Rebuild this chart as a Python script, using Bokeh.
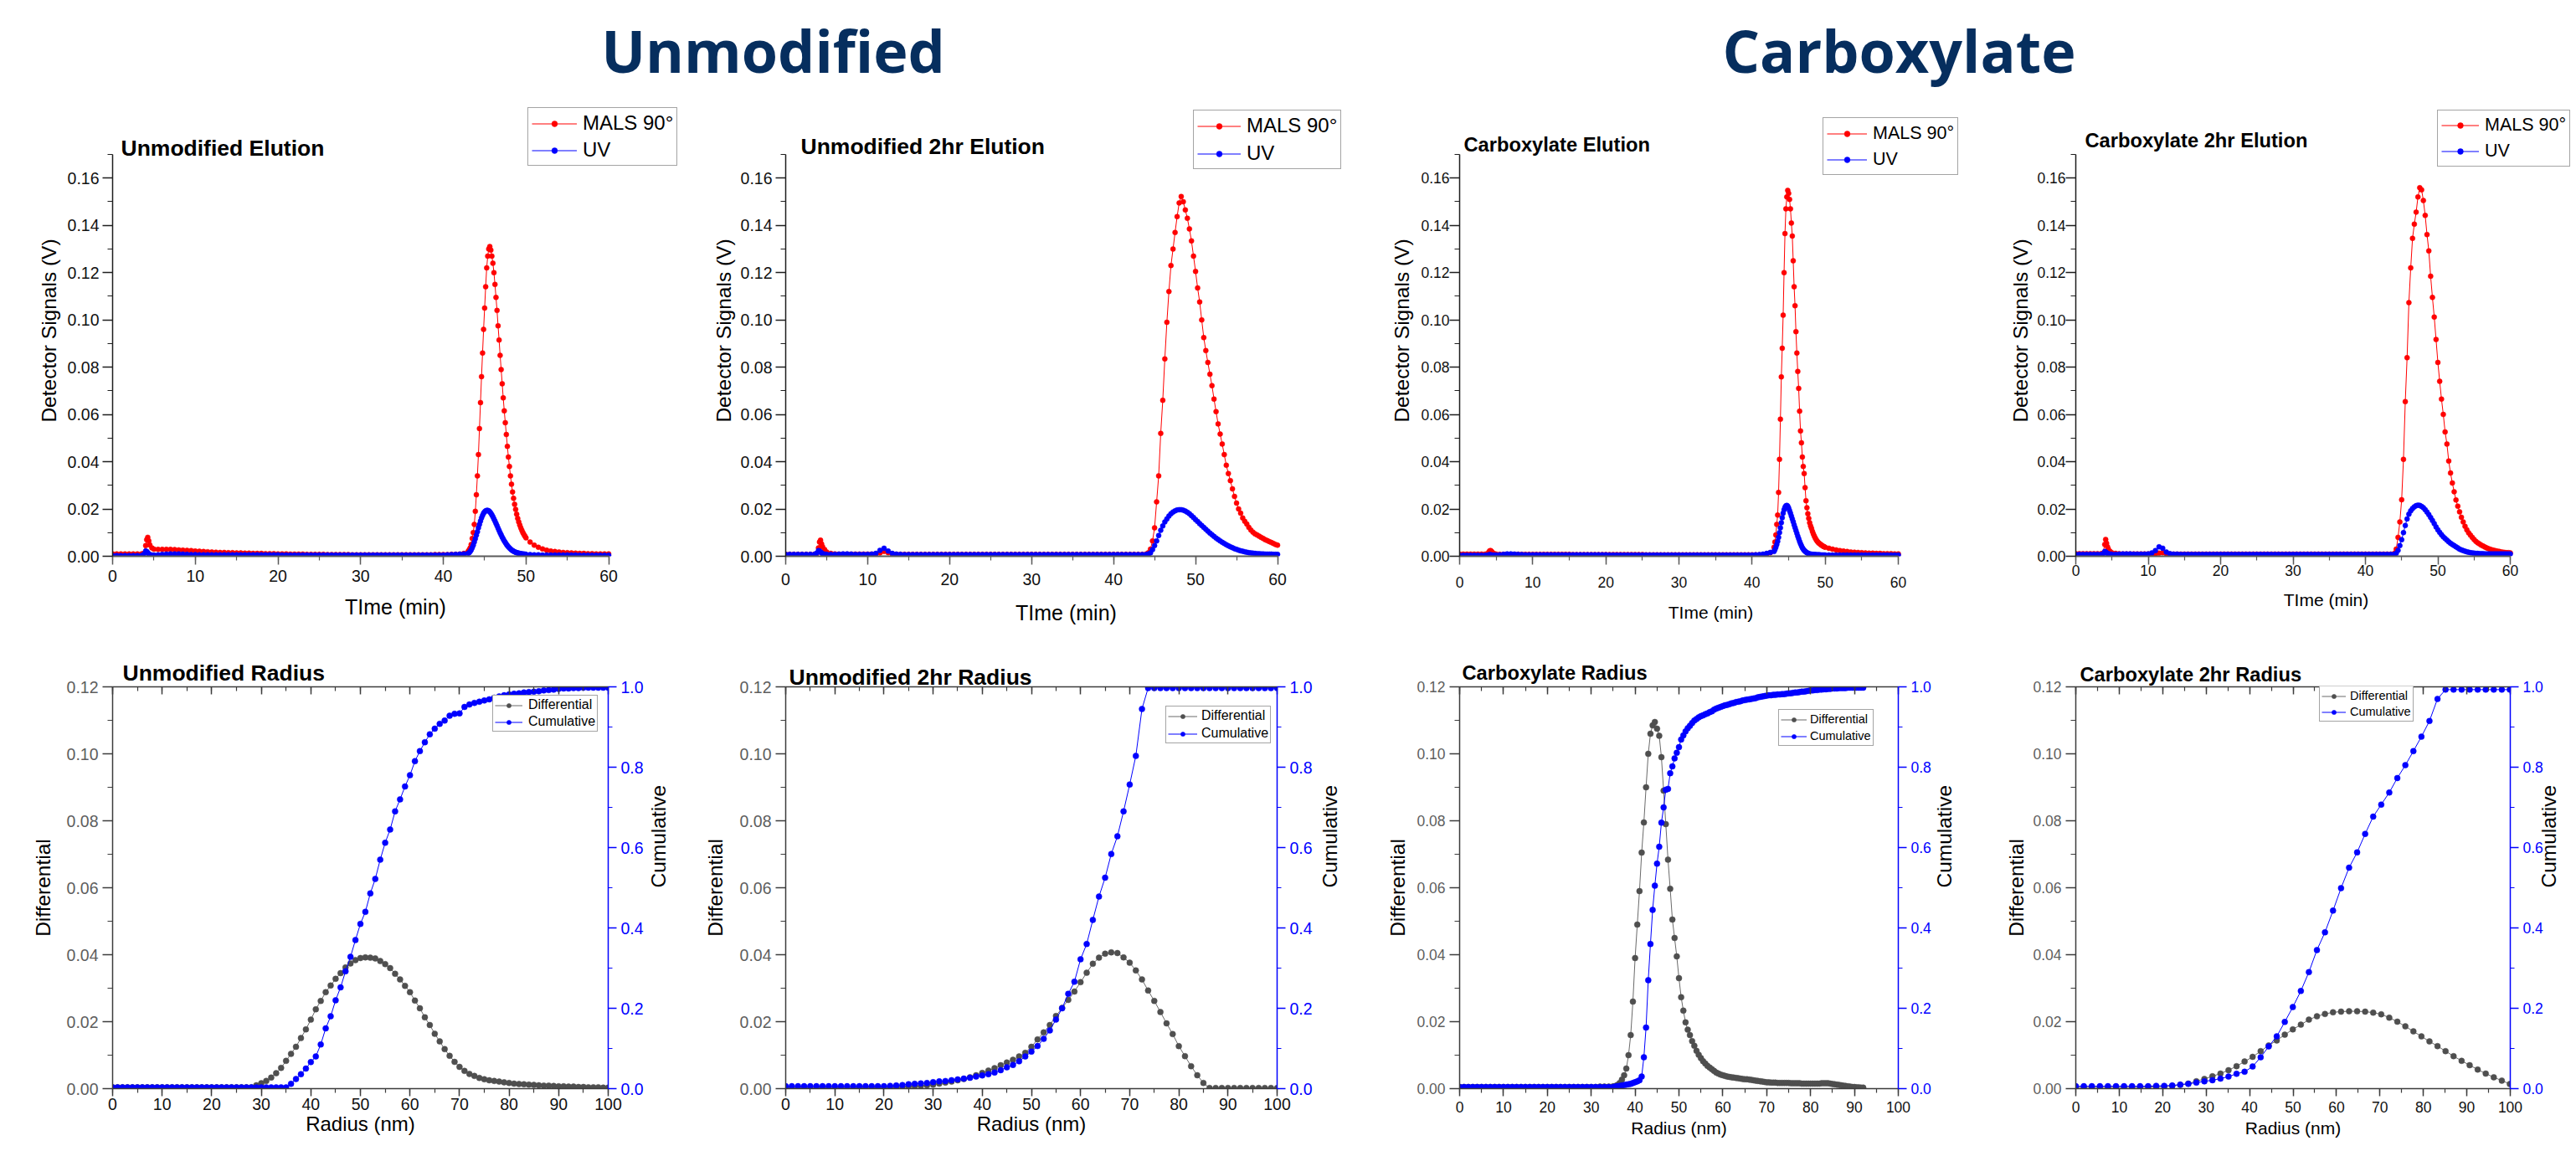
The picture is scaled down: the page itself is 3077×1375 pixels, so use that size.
import math
import numpy as np
from bokeh.plotting import figure
from bokeh.models import (Range1d, LinearAxis, SingleIntervalTicker, NumeralTickFormatter,
                          Legend, LegendItem, Label, ColumnDataSource)
from bokeh.layouts import column, row
from bokeh.core.properties import value
from bokeh.embed import file_html
from bokeh.resources import INLINE

# ------------------------------------------------------------------ sampling grids
SPIKE = [3.75, 4.0, 4.125, 4.25, 4.375, 4.5, 4.75, 5.0]
T_NARROW = np.concatenate([np.arange(0, 3.51, 0.5), SPIKE, np.arange(5.5, 42.51, 0.5),
                           np.arange(43.0, 49.9, 0.125), np.arange(50.0, 60.01, 0.5)])
T_BROAD = np.concatenate([np.arange(0, 3.51, 0.5), SPIKE, np.arange(5.5, 43.51, 0.5),
                          np.arange(44.0, 60.01, 0.25)])
R5 = np.arange(0, 100.5, 1.0)
R6 = np.arange(0, 100.01, 1.25)
R7 = np.concatenate([np.arange(0, 34.5, 1.0), np.arange(35.0, 92.01, 0.5)])
R8 = np.round(np.arange(55) * 1.85, 2)

# ------------------------------------------------------------------ elution data (V)
P1_MALS = [
 0.0010,0.0010,0.0010,0.0010,0.0010,0.0010,0.0010,0.0010,
 0.0012,0.0045,0.0070,0.0080,0.0065,0.0048,0.0035,0.0030,
 0.0029,0.0029,0.0029,0.0029,0.0028,0.0027,0.0026,0.0025,0.0024,0.0022,
 0.0021,0.0020,0.0019,0.0018,0.0017,0.0016,0.0016,0.0015,0.0015,0.0014,
 0.0014,0.0013,0.0013,0.0012,0.0012,0.0012,0.0011,0.0011,0.0011,0.0010,
 0.0010,0.0010,0.0009,0.0009,0.0009,0.0009,0.0008,0.0008,0.0008,0.0008,
 0.0008,0.0007,0.0007,0.0007,0.0007,0.0007,0.0007,0.0006,0.0006,0.0006,
 0.0006,0.0006,0.0006,0.0006,0.0006,0.0006,0.0006,0.0006,0.0006,0.0006,
 0.0006,0.0006,0.0006,0.0006,0.0006,0.0006,0.0006,0.0007,0.0007,0.0007,
 0.0007,0.0008,0.0008,0.0009,0.0012,
 0.0020,0.0027,0.0035,0.0050,0.0075,0.0100,0.0135,0.0190,
 0.0260,0.0340,0.0430,0.0540,0.0650,0.0760,0.0860,0.0960,
 0.1050,0.1140,0.1220,0.1270,0.1300,0.1310,0.1295,0.1270,
 0.1240,0.1200,0.1150,0.1095,0.1040,0.0975,0.0915,0.0850,
 0.0790,0.0730,0.0670,0.0615,0.0565,0.0515,0.0465,0.0420,
 0.0380,0.0340,0.0305,0.0272,0.0245,0.0220,0.0198,0.0178,
 0.0160,0.0145,0.0132,0.0120,0.0110,0.0100,0.0092,0.0085,
 0.0078,0.0060,0.0047,0.0038,0.0031,0.0026,0.0022,0.0020,0.0018,0.0016,
 0.0015,0.0014,0.0013,0.0012,0.0012,0.0011,0.0011,0.0010,0.0010,0.0010,0.0010]
P1_UV = [
 0.0003,0.0003,0.0003,0.0003,0.0003,0.0003,0.0003,0.0003,
 0.0008,0.0022,0.0020,0.0015,0.0010,0.0007,0.0005,0.0005,
 0.0006,0.0008,0.0009,0.0010,0.0010,0.0010,0.0009,0.0008,0.0007,0.0007,
 0.0006,0.0006,0.0006,0.0006,0.0006,0.0006,0.0006,0.0006,0.0006,0.0006,
 0.0006,0.0006,0.0006,0.0006,0.0006,0.0006,0.0006,0.0006,0.0006,0.0006,
 0.0005,0.0005,0.0005,0.0005,0.0005,0.0005,0.0005,0.0005,0.0005,0.0005,
 0.0005,0.0005,0.0005,0.0005,0.0005,0.0005,0.0005,0.0005,0.0005,0.0005,
 0.0005,0.0005,0.0005,0.0005,0.0005,0.0005,0.0005,0.0005,0.0005,0.0005,
 0.0005,0.0005,0.0005,0.0005,0.0005,0.0005,0.0005,0.0005,0.0005,0.0005,
 0.0006,0.0007,0.0008,0.0009,0.0010,
 0.0012,0.0015,0.0020,0.0027,0.0036,0.0047,0.0060,0.0074,
 0.0089,0.0104,0.0120,0.0135,0.0149,0.0162,0.0173,0.0182,
 0.0188,0.0192,0.0194,0.0194,0.0192,0.0188,0.0182,0.0175,
 0.0167,0.0158,0.0149,0.0139,0.0129,0.0119,0.0109,0.0099,
 0.0090,0.0081,0.0073,0.0065,0.0058,0.0051,0.0045,0.0040,
 0.0035,0.0031,0.0027,0.0024,0.0021,0.0019,0.0017,0.0015,
 0.0014,0.0013,0.0012,0.0011,0.0010,0.0010,0.0009,0.0009,
 0.0008,0.0007,0.0006,0.0006,0.0005,0.0005,0.0005,0.0005,0.0005,0.0005,
 0.0005,0.0005,0.0005,0.0004,0.0004,0.0004,0.0004,0.0004,0.0004,0.0004,0.0004]

P2_MALS = [
 0.0008,0.0008,0.0008,0.0008,0.0008,0.0008,0.0008,0.0008,
 0.0010,0.0035,0.0060,0.0068,0.0052,0.0040,0.0028,0.0018,
 0.0012,0.0010,
 0.0009,0.0009,0.0009,0.0009,0.0009,0.0009,0.0009,0.0009,0.0009,0.0009,
 0.0014,0.0020,0.0015,0.0010,
 0.0008,0.0008,0.0008,0.0008,0.0008,0.0008,0.0008,0.0008,0.0008,0.0008,
 0.0008,0.0008,0.0008,0.0008,0.0008,0.0008,0.0008,0.0008,0.0008,0.0008,
 0.0008,0.0008,0.0008,0.0008,0.0008,0.0008,0.0008,0.0008,0.0008,0.0008,
 0.0008,0.0008,0.0008,0.0008,0.0008,0.0008,0.0008,0.0008,0.0008,0.0008,
 0.0008,0.0008,0.0008,0.0008,0.0008,0.0008,0.0008,0.0008,0.0008,0.0008,
 0.0008,0.0008,0.0008,0.0008,0.0008,0.0008,0.0008,0.0008,0.0008,0.0008,
 0.0008,
 0.0010,0.0015,0.0030,0.0065,0.0120,0.0230,0.0340,0.0520,
 0.0660,0.0835,0.0990,0.1120,0.1230,0.1300,0.1370,0.1437,
 0.1495,0.1522,0.1500,0.1465,0.1430,0.1385,0.1334,0.1270,
 0.1205,0.1135,0.1076,0.1000,0.0925,0.0870,0.0820,0.0770,
 0.0722,0.0665,0.0612,0.0560,0.0517,0.0475,0.0430,0.0385,
 0.0350,0.0320,0.0285,0.0253,0.0225,0.0200,0.0182,0.0162,
 0.0148,0.0136,0.0122,0.0111,0.0102,0.0095,0.0090,0.0085,
 0.0080,0.0075,0.0070,0.0066,0.0062,0.0058,0.0054,0.0050,
 0.0047]
P2_UV = [
 0.0008,0.0008,0.0008,0.0008,0.0008,0.0008,0.0008,0.0008,
 0.0012,0.0024,0.0022,0.0018,0.0014,0.0011,0.0009,0.0008,
 0.0008,0.0008,
 0.0009,0.0010,0.0010,0.0009,0.0008,0.0008,0.0008,0.0008,0.0009,0.0012,
 0.0025,0.0034,0.0022,0.0012,
 0.0009,0.0008,
 0.0007,0.0007,0.0007,0.0007,0.0007,0.0007,0.0007,0.0007,0.0007,0.0007,
 0.0007,0.0007,0.0007,0.0007,0.0007,0.0007,0.0007,0.0007,0.0007,0.0007,
 0.0007,0.0007,0.0007,0.0007,0.0007,0.0007,0.0007,0.0007,0.0007,0.0007,
 0.0007,0.0007,0.0007,0.0007,0.0007,0.0007,0.0007,0.0007,0.0007,0.0007,
 0.0007,0.0007,0.0007,0.0007,0.0007,0.0007,0.0007,0.0007,0.0007,0.0007,
 0.0007,0.0007,0.0007,0.0007,0.0007,0.0007,0.0007,0.0007,0.0007,
 0.0008,0.0010,0.0014,0.0028,0.0045,0.0065,0.0088,0.0110,
 0.0128,0.0145,0.0158,0.0170,0.0180,0.0187,0.0192,0.0196,
 0.0197,0.0197,0.0195,0.0191,0.0186,0.0180,0.0172,0.0164,
 0.0155,0.0147,0.0138,0.0130,0.0122,0.0114,0.0106,0.0098,
 0.0091,0.0084,0.0077,0.0071,0.0065,0.0059,0.0054,0.0049,
 0.0044,0.0040,0.0036,0.0032,0.0029,0.0026,0.0023,0.0021,
 0.0019,0.0017,0.0015,0.0014,0.0013,0.0012,0.0011,0.0011,
 0.0010,0.0010,0.0009,0.0009,0.0009,0.0009,0.0008,0.0008,
 0.0008]

P3_MALS = [
 0.0009,0.0009,0.0009,0.0009,0.0009,0.0009,0.0009,0.0009,
 0.0010,0.0018,0.0023,0.0024,0.0020,0.0015,0.0011,0.0009,
 0.0008,0.0008,0.0008,0.0008,0.0008,0.0008,0.0008,0.0008,0.0008,0.0008,
 0.0008,0.0008,0.0008,0.0008,0.0008,0.0008,0.0008,0.0008,0.0008,0.0008,
 0.0007,0.0007,0.0007,0.0007,0.0007,0.0007,0.0007,0.0007,0.0007,0.0007,
 0.0007,0.0007,0.0007,0.0007,0.0007,0.0007,0.0007,0.0007,0.0007,0.0007,
 0.0006,0.0006,0.0006,0.0006,0.0006,0.0006,0.0006,0.0006,0.0006,0.0006,
 0.0006,0.0006,0.0006,0.0006,0.0006,0.0006,0.0006,0.0006,0.0006,0.0006,
 0.0006,0.0006,0.0006,0.0006,0.0006,0.0006,0.0006,0.0006,0.0006,0.0006,
 0.0006,0.0006,0.0007,0.0009,0.0015,
 0.0038,0.0060,0.0090,0.0135,0.0174,0.0270,0.0410,0.0580,
 0.0759,0.0880,0.1020,0.1200,0.1365,0.1470,0.1520,0.1548,
 0.1535,0.1510,0.1470,0.1410,0.1355,0.1250,0.1140,0.1060,
 0.0950,0.0860,0.0782,0.0710,0.0614,0.0530,0.0480,0.0420,
 0.0380,0.0350,0.0290,0.0235,0.0205,0.0180,0.0160,0.0142,
 0.0128,0.0118,0.0105,0.0095,0.0086,0.0078,0.0071,0.0065,
 0.0060,0.0056,0.0053,0.0050,0.0047,0.0044,0.0042,0.0040,
 0.0038,0.0034,0.0030,0.0027,0.0024,0.0022,0.0020,0.0018,0.0017,0.0016,
 0.0015,0.0014,0.0013,0.0013,0.0012,0.0012,0.0011,0.0011,0.0011,0.0010,0.0010]
P3_UV = [
 0.0004,0.0004,0.0004,0.0004,0.0004,0.0004,0.0004,0.0004,
 0.0004,0.0006,0.0007,0.0006,0.0005,0.0005,0.0005,0.0005,
 0.0006,0.0008,0.0010,0.0010,0.0009,0.0008,0.0007,0.0006,0.0006,0.0006,
 0.0006,0.0006,0.0006,0.0006,0.0006,0.0006,0.0006,0.0006,0.0006,0.0006,
 0.0006,0.0006,0.0006,0.0006,0.0006,0.0006,0.0006,0.0006,0.0006,0.0006,
 0.0005,0.0005,0.0005,0.0005,0.0005,0.0005,0.0005,0.0005,0.0005,0.0005,
 0.0005,0.0005,0.0005,0.0005,0.0005,0.0005,0.0005,0.0005,0.0005,0.0005,
 0.0005,0.0005,0.0005,0.0005,0.0005,0.0005,0.0005,0.0005,0.0005,0.0005,
 0.0005,0.0005,0.0005,0.0005,0.0005,0.0005,0.0005,0.0005,0.0005,0.0005,
 0.0006,0.0007,0.0009,0.0012,0.0016,
 0.0020,0.0028,0.0038,0.0050,0.0063,0.0080,0.0100,0.0120,
 0.0142,0.0163,0.0182,0.0197,0.0207,0.0213,0.0215,0.0212,
 0.0204,0.0193,0.0182,0.0170,0.0158,0.0146,0.0133,0.0121,
 0.0109,0.0097,0.0085,0.0074,0.0063,0.0053,0.0044,0.0036,
 0.0030,0.0025,0.0021,0.0018,0.0015,0.0013,0.0011,0.0010,
 0.0009,0.0008,0.0008,0.0007,0.0007,0.0007,0.0006,0.0006,
 0.0006,0.0006,0.0006,0.0005,0.0005,0.0005,0.0005,0.0005,
 0.0005,0.0005,0.0005,0.0005,0.0005,0.0005,0.0005,0.0005,0.0005,0.0005,
 0.0005,0.0005,0.0005,0.0005,0.0005,0.0005,0.0005,0.0005,0.0005,0.0005,0.0005]

P4_MALS = [
 0.0011,0.0011,0.0011,0.0011,0.0011,0.0011,0.0011,0.0011,
 0.0013,0.0050,0.0071,0.0055,0.0040,0.0030,0.0020,0.0014,
 0.0012,0.0011,
 0.0010,0.0010,0.0010,0.0010,0.0010,0.0010,0.0010,0.0010,0.0010,0.0010,
 0.0013,0.0015,0.0011,0.0010,
 0.0009,0.0009,0.0009,0.0009,0.0009,0.0009,0.0009,0.0009,0.0009,0.0009,
 0.0009,0.0009,0.0009,0.0009,0.0009,0.0009,0.0009,0.0009,0.0009,0.0009,
 0.0009,0.0009,0.0009,0.0009,0.0009,0.0009,0.0009,0.0009,0.0009,0.0009,
 0.0009,0.0009,0.0009,0.0009,0.0009,0.0009,0.0009,0.0009,0.0009,0.0009,
 0.0009,0.0009,0.0009,0.0009,0.0009,0.0009,0.0009,0.0009,0.0009,0.0009,
 0.0009,0.0009,0.0009,0.0009,0.0009,0.0009,0.0009,0.0009,0.0009,0.0009,
 0.0009,
 0.0012,0.0030,0.0080,0.0145,0.0239,0.0410,0.0654,0.0840,
 0.1073,0.1220,0.1345,0.1405,0.1456,0.1520,0.1559,0.1550,
 0.1505,0.1442,0.1361,0.1292,0.1185,0.1095,0.1012,0.0917,
 0.0820,0.0740,0.0665,0.0600,0.0526,0.0475,0.0403,0.0352,
 0.0310,0.0273,0.0238,0.0212,0.0188,0.0165,0.0145,0.0127,
 0.0112,0.0099,0.0089,0.0080,0.0071,0.0063,0.0057,0.0052,
 0.0047,0.0043,0.0039,0.0035,0.0032,0.0029,0.0027,0.0025,
 0.0023,0.0021,0.0020,0.0018,0.0017,0.0016,0.0015,0.0015,
 0.0014]
P4_UV = [
 0.0008,0.0008,0.0008,0.0008,0.0008,0.0008,0.0008,0.0008,
 0.0010,0.0020,0.0018,0.0015,0.0012,0.0010,0.0009,0.0008,
 0.0008,0.0009,
 0.0010,0.0010,0.0010,0.0009,0.0009,0.0009,0.0009,0.0010,0.0014,0.0024,
 0.0040,0.0034,0.0018,0.0011,
 0.0009,0.0009,
 0.0008,0.0008,0.0008,0.0008,0.0008,0.0008,0.0008,0.0008,0.0008,0.0008,
 0.0008,0.0008,0.0008,0.0008,0.0008,0.0008,0.0008,0.0008,0.0008,0.0008,
 0.0008,0.0008,0.0008,0.0008,0.0008,0.0008,0.0008,0.0008,0.0008,0.0008,
 0.0008,0.0008,0.0008,0.0008,0.0008,0.0008,0.0008,0.0008,0.0008,0.0008,
 0.0008,0.0008,0.0008,0.0008,0.0008,0.0008,0.0008,0.0008,0.0008,0.0008,
 0.0008,0.0008,0.0008,0.0008,0.0008,0.0008,0.0008,0.0008,0.0008,
 0.0009,0.0012,0.0025,0.0045,0.0070,0.0100,0.0130,0.0158,
 0.0178,0.0192,0.0202,0.0209,0.0214,0.0216,0.0215,0.0211,
 0.0205,0.0197,0.0187,0.0176,0.0164,0.0151,0.0138,0.0124,
 0.0112,0.0101,0.0091,0.0082,0.0075,0.0068,0.0061,0.0055,
 0.0050,0.0045,0.0040,0.0035,0.0030,0.0027,0.0024,0.0021,
 0.0019,0.0017,0.0015,0.0014,0.0013,0.0012,0.0012,0.0011,
 0.0011,0.0011,0.0010,0.0010,0.0010,0.0010,0.0010,0.0010,
 0.0010,0.0010,0.0010,0.0010,0.0010,0.0010,0.0010,0.0010,
 0.0010]

# ------------------------------------------------------------------ radius distributions
P5_DIFF = [
 0.0004,0.0004,0.0004,0.0004,0.0004,0.0004,0.0004,0.0004,0.0004,0.0004,
 0.0004,0.0004,0.0004,0.0004,0.0004,0.0004,0.0004,0.0004,0.0004,0.0004,
 0.0004,0.0004,0.0004,0.0004,0.0004,0.0004,0.0004,0.0004,0.0004,
 0.0010,0.0016,0.0023,0.0033,0.0046,0.0062,0.0083,0.0104,0.0125,0.0151,
 0.0177,0.0206,0.0237,0.0262,0.0288,0.0308,0.0328,0.0345,0.0362,0.0374,
 0.0384,0.0390,0.0392,0.0391,0.0389,0.0381,0.0372,0.0360,0.0343,0.0326,
 0.0307,0.0288,0.0263,0.0240,0.0213,0.0190,0.0164,0.0141,0.0118,0.0098,
 0.0080,0.0065,0.0053,0.0044,0.0038,0.0032,0.0028,0.0025,0.0023,0.0021,
 0.0019,0.0017,0.0015,0.0014,0.0013,0.0012,0.0011,0.0010,0.0009,0.0009,
 0.0008,0.0007,0.0007,0.0006,0.0006,0.0005,0.0005,0.0004,0.0004,0.0004,
 0.0003,0.0003]
P5_CUM = [
 0.003,0.003,0.003,0.003,0.003,0.003,0.003,0.003,0.003,0.003,
 0.003,0.003,0.003,0.003,0.003,0.003,0.003,0.003,0.003,0.003,
 0.003,0.003,0.003,0.003,0.003,0.003,0.003,0.003,0.003,0.003,
 0.003,0.003,0.003,0.003,0.003,0.003,
 0.012,0.024,0.036,0.050,0.066,0.080,0.110,0.150,0.180,0.220,
 0.252,0.292,0.328,0.370,0.410,0.440,0.486,0.522,0.570,0.612,
 0.645,0.690,0.720,0.752,0.780,0.815,0.840,0.862,0.882,0.896,
 0.908,0.916,0.928,0.933,0.934,0.950,0.956,0.960,0.963,0.966,
 0.969,0.973,0.976,0.979,0.981,0.983,0.984,0.986,0.987,0.988,
 0.989,0.991,0.992,0.993,0.995,0.996,0.996,0.997,0.997,0.998,
 0.998,0.998,0.998,0.998,0.998]

P6_DIFF = [
 0.0002,0.0002,0.0002,0.0002,0.0002,0.0002,0.0002,0.0002,0.0002,0.0002,
 0.0002,0.0002,0.0002,0.0003,0.0003,0.0003,0.0003,0.0004,0.0004,
 0.0005,0.0006,0.0007,0.0008,0.0010,0.0012,0.0015,0.0018,0.0021,0.0025,
 0.0029,0.0034,0.0040,0.0047,0.0054,0.0061,0.0070,0.0078,0.0086,0.0096,
 0.0107,0.0125,0.0147,0.0168,0.0190,0.0217,0.0241,0.0265,0.0290,0.0318,
 0.0346,0.0373,0.0391,0.0403,0.0407,0.0405,0.0392,0.0376,0.0353,0.0326,
 0.0293,0.0262,0.0229,0.0195,0.0163,0.0127,0.0097,0.0067,0.0040,0.0017,
 0.0002,
 0.0002,0.0002,0.0002,0.0002,0.0002,0.0002,0.0002,0.0002,0.0002,0.0002,0.0002]
P6_CUM = [
 0.006,0.006,0.006,0.006,0.006,0.006,0.006,0.006,0.006,0.006,
 0.006,0.006,0.006,0.006,0.006,0.006,0.006,
 0.007,0.008,0.009,0.011,0.012,0.013,0.014,0.016,0.018,0.019,
 0.021,0.023,0.025,0.027,0.030,0.033,0.036,0.040,0.046,0.053,
 0.059,0.068,0.080,0.092,0.106,0.124,0.145,0.172,0.200,0.236,
 0.266,0.322,0.360,0.420,0.478,0.525,0.584,0.628,0.690,0.757,
 0.828,0.945,0.997,
 0.997,0.997,0.997,0.997,0.997,0.997,0.997,0.997,0.997,0.997,
 0.997,0.997,0.997,0.997,0.997,0.997,0.997,0.997,0.997,0.997,0.997]

P7_DIFF = [
 0.0005,0.0005,0.0005,0.0005,0.0005,0.0005,0.0005,0.0005,0.0005,0.0005,
 0.0005,0.0005,0.0005,0.0005,0.0005,0.0005,0.0005,0.0005,0.0005,0.0005,
 0.0005,0.0005,0.0005,0.0005,0.0005,0.0005,0.0005,0.0005,0.0005,0.0005,
 0.0005,0.0005,0.0006,0.0006,0.0006,
 0.0007,0.0008,0.0011,0.0017,0.0027,0.0040,0.0060,0.0100,0.0160,0.0260,
 0.0390,0.0490,0.0590,0.0705,0.0795,0.0900,0.1000,0.1060,0.1085,0.1095,
 0.1075,0.1054,0.0990,0.0890,0.0790,0.0684,0.0597,0.0505,0.0450,0.0395,
 0.0330,0.0273,0.0233,0.0198,0.0176,0.0160,0.0142,0.0128,0.0113,0.0101,
 0.0091,
 0.0082,0.0075,0.0068,0.0063,0.0058,0.0053,0.0048,0.0045,0.0042,0.0040,
 0.0038,0.0036,0.0035,0.0034,0.0033,0.0032,0.0031,0.0030,0.0029,0.0028,
 0.0028,0.0027,0.0026,0.0025,0.0024,0.0023,0.0022,0.0021,0.0020,0.0019,
 0.0019,0.0018,0.0018,0.0018,0.0017,0.0017,0.0017,0.0017,0.0017,0.0017,
 0.0016,0.0016,0.0016,0.0016,0.0016,0.0015,0.0015,0.0015,0.0015,
 0.0015,0.0015,0.0015,0.0015,0.0015,0.0016,0.0016,0.0016,0.0016,0.0015,
 0.0014,0.0013,0.0012,
 0.0011,0.0010,0.0009,0.0008,0.0007,0.0006,0.0005,0.0005,0.0004,0.0004,
 0.0003,0.0003]
P7_CUM = [
 0.004,0.004,0.004,0.004,0.004,0.004,0.004,0.004,0.004,0.004,
 0.004,0.004,0.004,0.004,0.004,0.004,0.004,0.004,0.004,0.004,
 0.004,0.004,0.004,0.004,0.004,0.004,0.004,0.004,0.004,0.004,
 0.004,0.004,0.004,0.004,0.004,
 0.004,0.005,0.006,0.007,0.008,0.009,0.010,0.011,0.012,0.014,
 0.016,0.018,0.021,0.030,0.078,0.152,0.270,0.360,0.445,0.505,
 0.560,0.602,0.662,0.700,0.744,0.746,0.785,0.802,0.822,0.836,
 0.850,0.869,0.879,0.889,0.897,0.903,0.910,0.916,0.920,0.924,
 0.927,
 0.929,0.932,0.934,0.937,0.939,0.943,0.946,0.948,0.950,0.952,
 0.954,0.955,0.957,0.959,0.960,0.962,0.963,0.964,0.966,0.967,
 0.968,0.969,0.970,0.971,0.972,0.974,0.975,0.976,0.977,0.978,
 0.979,0.979,0.980,0.980,0.981,0.981,0.982,0.982,0.983,0.984,
 0.984,0.985,0.986,0.986,0.987,0.988,0.988,0.989,0.990,
 0.991,0.991,0.992,0.992,0.993,0.993,0.994,0.994,0.995,0.995,
 0.996,0.996,0.996,
 0.997,0.997,0.997,0.997,0.998,0.998,0.998,0.998,0.998,0.998,
 0.998,0.998]

P8_DIFF = [
 0.0004,0.0004,0.0004,0.0004,0.0004,0.0004,0.0004,0.0004,0.0004,0.0005,
 0.0005,0.0006,0.0008,0.0011,0.0015,0.0022,0.0029,0.0037,0.0045,0.0055,
 0.0067,0.0081,0.0095,0.0112,0.0129,0.0144,0.0161,0.0177,0.0191,0.0206,
 0.0216,0.0223,0.0228,0.0230,0.0231,0.0231,0.0230,0.0227,0.0222,0.0212,
 0.0200,0.0186,0.0171,0.0156,0.0141,0.0127,0.0112,0.0097,0.0083,0.0070,
 0.0057,0.0045,0.0034,0.0024,0.0014]
P8_CUM = [
 0.006,0.006,0.006,0.006,0.006,0.006,0.006,0.006,0.006,0.006,
 0.007,0.007,0.008,0.010,0.012,0.015,0.018,0.021,0.025,0.030,
 0.037,0.042,0.055,0.078,0.105,0.130,0.166,0.203,0.243,0.290,
 0.345,0.389,0.443,0.499,0.550,0.588,0.634,0.677,0.707,0.737,
 0.773,0.805,0.840,0.876,0.915,0.970,0.993,0.993,0.993,0.993,
 0.993,0.993,0.993,0.993,0.993]

TITLES = ["Unmodified Elution", "Unmodified 2hr Elution", "Carboxylate Elution",
          "Carboxylate 2hr Elution", "Unmodified Radius", "Unmodified 2hr Radius",
          "Carboxylate Radius", "Carboxylate 2hr Radius"]
HEADERS = ["Unmodified", "Carboxylate"]

# ------------------------------------------------------------------ styling / layout
FONT = "Liberation Sans"
RED, BLUE, GRAY, NAVY = "#FF0000", "#0000FF", "#4F4F4F", "#062E5E"
PAGE_W = 3077
HDR_H, TOP_H, BOT_H = 125, 641, 609
TOP_MB_T, TOP_MB_B = 0, 102
BOT_MB_T, BOT_MB_B = 54, 75
TOP_AXIS_H = 480.0
TOP_FRAME_H = TOP_H - TOP_MB_T - TOP_MB_B


def fit(*arrs):
    n = min(len(a) for a in arrs)
    if any(len(a) != n for a in arrs):
        print("length mismatch", [len(a) for a in arrs])
    return [list(np.asarray(a, dtype=float)[:n]) for a in arrs]


def base_fig(w, h, mb, xr, yr, title=None):
    p = figure(width=w, height=h, x_range=xr, y_range=yr, output_backend="svg",
               toolbar_location=None, title=title, min_border_left=mb[0],
               min_border_right=mb[1], min_border_top=mb[2], min_border_bottom=mb[3])
    p.xgrid.visible = False
    p.ygrid.visible = False
    p.outline_line_color = None
    p.background_fill_color = "white"
    p.border_fill_color = "white"
    return p


def style_axis(ax, line_color, lab_color, tick_px, lab_px, tick_out, minor_out,
               lab_standoff, axis_standoff, lw=1.5):
    ax.axis_line_color = line_color
    ax.axis_line_width = lw
    ax.major_tick_line_color = line_color
    ax.minor_tick_line_color = line_color
    ax.major_tick_line_width = 1.5
    ax.minor_tick_line_width = 1.2
    ax.major_tick_in = 0
    ax.major_tick_out = tick_out
    ax.minor_tick_in = 0
    ax.minor_tick_out = minor_out
    ax.major_label_text_font = FONT
    ax.major_label_text_font_size = f"{tick_px}px"
    ax.major_label_text_color = lab_color
    ax.major_label_standoff = lab_standoff
    ax.axis_label_text_font = FONT
    ax.axis_label_text_font_size = f"{lab_px}px"
    ax.axis_label_text_font_style = "normal"
    ax.axis_label_text_color = "#000000"
    ax.axis_label_standoff = axis_standoff


def make_legend(items, c):
    return Legend(items=items, location=c["leg"], margin=0, padding=c["pad"],
                  spacing=c["sp"], glyph_width=c["gw"], glyph_height=c["gh"],
                  label_height=c["lh"], label_standoff=c["ls"],
                  label_text_font=FONT, label_text_font_size=f"{c['lf']}px",
                  label_text_color="#000000", border_line_color="#4A4A4A",
                  border_line_width=1.5, background_fill_color="white",
                  background_fill_alpha=1.0)


def elution(c, title, t, mals, uv):
    frame_w = c["w"] - c["mb"][0] - c["mb"][1]
    x_end = 60.0 * frame_w / c["aw"]
    y_end = 0.17 * TOP_FRAME_H / TOP_AXIS_H
    p = base_fig(c["w"], TOP_H, c["mb"], Range1d(0, x_end), Range1d(0, y_end))
    xa, ya = p.xaxis[0], p.yaxis[0]
    xa.bounds = (0, 60)
    ya.bounds = (0, 0.17)
    xa.ticker = SingleIntervalTicker(interval=10, num_minor_ticks=2)
    ya.ticker = SingleIntervalTicker(interval=0.02, num_minor_ticks=2)
    ya.formatter = NumeralTickFormatter(format="0.00")
    xa.axis_label = "TIme (min)"
    ya.axis_label = "Detector Signals (V)"
    style_axis(xa, "#5A5A5A", "#111111", c["tk"], c["xl"], 10, 5, c["xls"], c["xs"], lw=2)
    style_axis(ya, "#1E1E1E", "#111111", c["tk"], c["yl"], 12, 6, c["yls"], c["ys"])
    tt, mm, uu = fit(t, mals, uv)
    src = ColumnDataSource(dict(t=tt, m=mm, u=uu))
    lm = p.line("t", "m", source=src, line_color=RED, line_width=1)
    sm = p.scatter("t", "m", source=src, size=6, fill_color=RED, line_color=RED, line_width=0.5)
    lu = p.line("t", "u", source=src, line_color=BLUE, line_width=1)
    su = p.scatter("t", "u", source=src, size=6, fill_color=BLUE, line_color=BLUE, line_width=0.5)
    p.add_layout(make_legend([LegendItem(label=value("MALS 90°"), renderers=[lm, sm]),
                              LegendItem(label=value("UV"), renderers=[lu, su])], c))
    p.add_layout(Label(x=c["tt"][0], y=c["tt"][1], x_units="screen", y_units="screen",
                       text=title, text_font=FONT, text_font_style="bold",
                       text_font_size=f"{c['tf']}px", text_color="#000000",
                       text_align="left", text_baseline="middle"))
    return p


def radius(c, title, r, diff, cum):
    p = base_fig(c["w"], BOT_H, c["mb"], Range1d(0, 100), Range1d(0, 0.12), title=title)
    p.title.align = "left"
    p.title.offset = c["tt"]
    p.title.standoff = c["tst"]
    p.title.text_font = FONT
    p.title.text_font_size = f"{c['tf']}px"
    p.title.text_font_style = "bold"
    p.title.text_color = "#000000"
    p.extra_y_ranges = {"cum": Range1d(0, 1.0)}
    xa, ya = p.xaxis[0], p.yaxis[0]
    xa.ticker = SingleIntervalTicker(interval=10, num_minor_ticks=2)
    ya.ticker = SingleIntervalTicker(interval=0.02, num_minor_ticks=2)
    ya.formatter = NumeralTickFormatter(format="0.00")
    xa.axis_label = "Radius (nm)"
    ya.axis_label = "Differential"
    style_axis(xa, "#3C3C3C", "#111111", c["xtk"], c["xl"], 9, 5, c["xls"], c["xs"])
    style_axis(ya, "#3C3C3C", "#5E5E5E", c["tk"], c["yl"], 12, 6, 5, c["ys"])
    ra = LinearAxis(y_range_name="cum", axis_label="Cumulative",
                    ticker=SingleIntervalTicker(interval=0.2, num_minor_ticks=2),
                    formatter=NumeralTickFormatter(format="0.0"))
    style_axis(ra, BLUE, BLUE, c["tk"], c["yl"], 10, 5, 5, c["rs"])
    try:
        ra.axis_label_orientation = math.pi / 2
    except Exception:
        pass
    p.add_layout(ra, "right")
    ta = LinearAxis(ticker=SingleIntervalTicker(interval=10, num_minor_ticks=2),
                    major_label_overrides={float(k): "" for k in range(0, 101, 10)})
    style_axis(ta, "#3C3C3C", "#FFFFFF", 1, 1, 0, 0, 0, 0)
    ta.major_tick_in = 9
    ta.minor_tick_in = 5
    p.add_layout(ta, "above")
    rr, dd, cc = fit(r, diff, cum)
    src = ColumnDataSource(dict(r=rr, d=dd, c=cc))
    ld = p.line("r", "d", source=src, line_color="#6A6A6A", line_width=1)
    sd = p.scatter("r", "d", source=src, size=7, fill_color=GRAY, line_color=GRAY, line_width=0.5)
    lc = p.line("r", "c", source=src, y_range_name="cum", line_color=BLUE, line_width=1)
    sc = p.scatter("r", "c", source=src, y_range_name="cum", size=7, fill_color=BLUE,
                   line_color=BLUE, line_width=0.5)
    p.add_layout(make_legend([LegendItem(label=value("Differential"), renderers=[ld, sd]),
                              LegendItem(label=value("Cumulative"), renderers=[lc, sc])], c))
    return p


WIDE = dict(tk=19.5, yl=24.5, xl=25, tf=26.5)
NARROW = dict(tk=17.5, yl=24.5, xl=21, tf=23.7)
WIDE_B = dict(WIDE, xtk=19.5, xl=24)
NARROW_B = dict(NARROW, xtk=17.5, xl=21)

TOP_CFG = [
    dict(WIDE, w=812, mb=(134, 2, TOP_MB_T, TOP_MB_B), aw=592.5, tt=(10, 488), leg=(496, 466),
         gw=54, ls=7, pad=4, lh=27, gh=17, sp=4, lf=24, xls=6, xs=13, yls=4, ys=6),
    dict(WIDE, w=798, mb=(126, 2, TOP_MB_T, TOP_MB_B), aw=587.5, tt=(18, 490), leg=(487, 462),
         gw=52, ls=7, pad=4, lh=27, gh=17, sp=5, lf=24, xls=10, xs=16, yls=4, ys=4),
    dict(NARROW, w=735, mb=(133, 2, TOP_MB_T, TOP_MB_B), aw=524.0, tt=(5, 492), leg=(434, 455),
         gw=48, ls=7, pad=4, lh=28, gh=17, sp=3, lf=21.5, xls=14, xs=15, yls=0, ys=6),
    dict(NARROW, w=732, mb=(134, 0, TOP_MB_T, TOP_MB_B), aw=519.0, tt=(11, 497), leg=(432, 465),
         gw=45, ls=7, pad=4, lh=27, gh=17, sp=4, lf=21.5, xls=0, xs=14, yls=0, ys=3),
]
BOT_CFG = [
    dict(WIDE_B, w=828, mb=(134, 102, BOT_MB_T, BOT_MB_B), tt=12, tst=4, leg=(454, 426),
         gw=33, ls=7, pad=2, lh=18, gh=13, sp=2, lf=16, xs=0, xls=2, ys=12, rs=15),
    dict(WIDE_B, w=800, mb=(110, 103, BOT_MB_T, BOT_MB_B), tt=4, tst=-6, leg=(454, 412),
         gw=35, ls=5, pad=2, lh=18, gh=13, sp=3, lf=16, xs=0, xls=2, ys=13, rs=18),
    dict(NARROW_B, w=737, mb=(115, 98, BOT_MB_T, BOT_MB_B), tt=3, tst=8, leg=(381, 409),
         gw=31, ls=4, pad=2, lh=18, gh=13, sp=2, lf=14.5, xs=4, xls=6, ys=6, rs=13),
    dict(NARROW_B, w=712, mb=(114, 79, BOT_MB_T, BOT_MB_B), tt=5, tst=3, leg=(291, 438),
         gw=29, ls=5, pad=2, lh=18, gh=13, sp=1, lf=14.5, xs=4, xls=6, ys=3, rs=4),
]

p1 = elution(TOP_CFG[0], TITLES[0], T_NARROW, P1_MALS, P1_UV)
p2 = elution(TOP_CFG[1], TITLES[1], T_BROAD, P2_MALS, P2_UV)
p3 = elution(TOP_CFG[2], TITLES[2], T_NARROW, P3_MALS, P3_UV)
p4 = elution(TOP_CFG[3], TITLES[3], T_BROAD, P4_MALS, P4_UV)
p5 = radius(BOT_CFG[0], TITLES[4], R5, P5_DIFF, P5_CUM)
p6 = radius(BOT_CFG[1], TITLES[5], R6, P6_DIFF, P6_CUM)
p7 = radius(BOT_CFG[2], TITLES[6], R7, P7_DIFF, P7_CUM)
p8 = radius(BOT_CFG[3], TITLES[7], R8, P8_DIFF, P8_CUM)

hdr = figure(width=PAGE_W, height=HDR_H, x_range=Range1d(0, 1), y_range=Range1d(0, 1),
             output_backend="svg", toolbar_location=None, min_border=0, title=None,
             x_axis_type=None, y_axis_type=None)
hdr.outline_line_color = None
for txt, xc in zip(HEADERS, [923, 2268]):
    hdr.add_layout(Label(x=xc, y=66, x_units="screen", y_units="screen", text=txt,
                         text_font="Open Sans", text_font_style="bold",
                         text_font_size="70px", text_color=NAVY, text_align="center",
                         text_baseline="alphabetic"))

layout = column(hdr, row(p1, p2, p3, p4), row(p5, p6, p7, p8))
open("out.html", "w").write(file_html(layout, INLINE))
